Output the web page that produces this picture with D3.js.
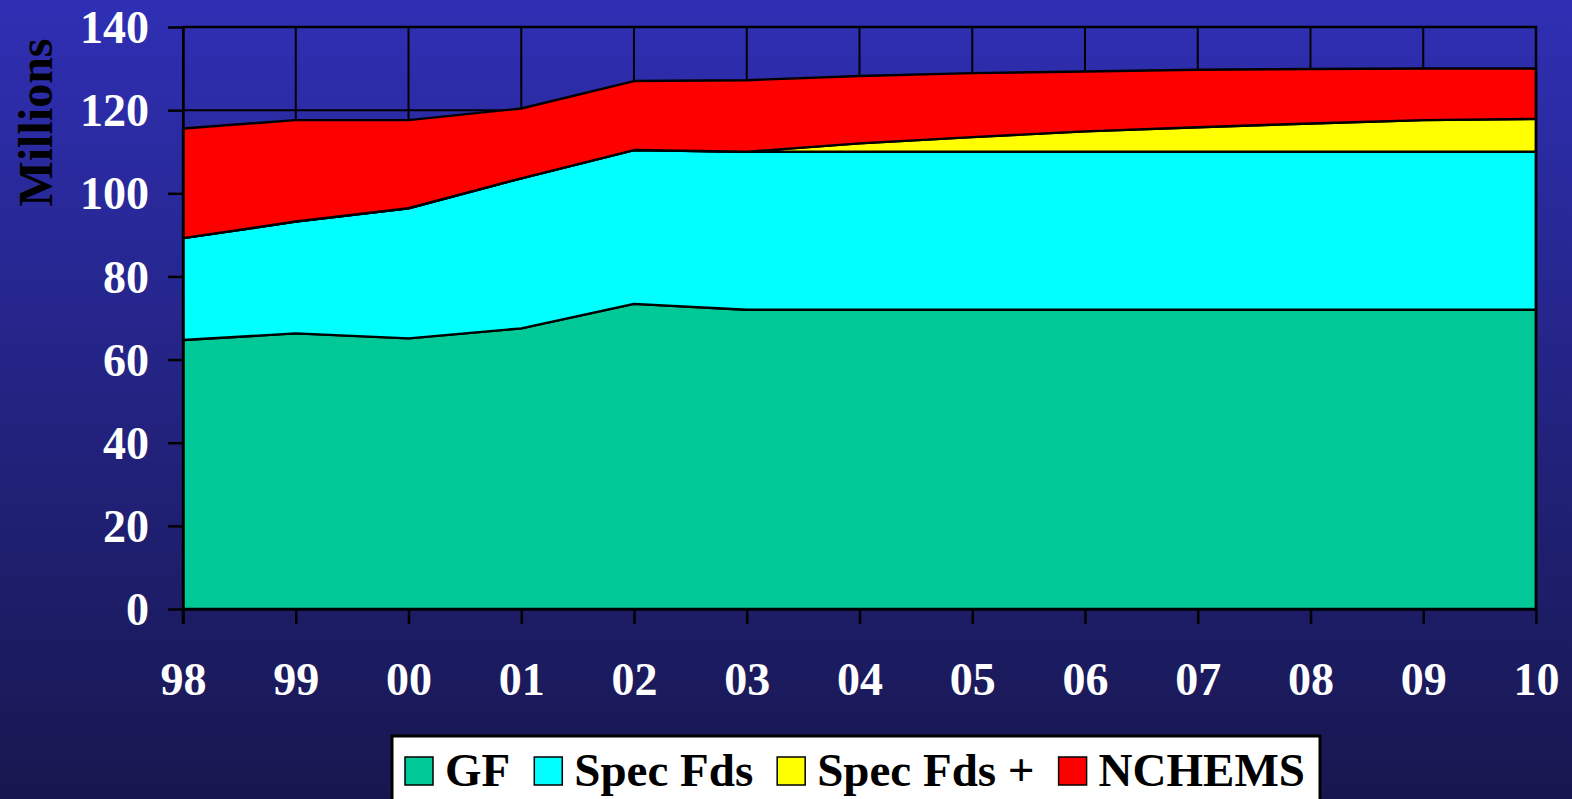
<!DOCTYPE html>
<html>
<head>
<meta charset="utf-8">
<script src="https://cdn.jsdelivr.net/npm/d3@7"></script>
<style>
  html, body { margin: 0; padding: 0; overflow: hidden; }
  svg { display: block; }
  text { font-family: "Liberation Serif", "Times New Roman", serif; font-weight: bold; }
</style>
</head>
<body>
<script>
// Fiscal years (two-digit labels) along the x axis
const years = ["98", "99", "00", "01", "02", "03", "04", "05", "06", "07", "08", "09", "10"];

// Funding by source, millions of dollars (stacked in this order)
const gf        = [64.7, 66.3, 65.1, 67.5, 73.4, 72.0, 72.0, 72.0, 72.0, 72.0, 72.0, 72.0, 72.0];
const specFds   = [24.5, 26.9, 31.3, 36.1, 37.0, 38.0, 38.0, 38.0, 38.0, 38.0, 38.0, 38.0, 38.0];
const specPlus  = [0, 0, 0, 0, 0, 0, 2.0, 3.5, 4.9, 5.9, 6.8, 7.6, 7.9];
const nchems    = [26.4, 24.4, 21.2, 16.8, 16.6, 17.2, 16.2, 15.4, 14.4, 13.8, 13.1, 12.4, 12.1];

const seriesNames  = ["GF", "Spec Fds", "Spec Fds +", "NCHEMS"];
const seriesColors = ["#00c896", "#00ffff", "#ffff00", "#ff0000"];
const yTicks = [0, 20, 40, 60, 80, 100, 120, 140];

const W = 1572, H = 799;
const svg = d3.select("body").append("svg").attr("width", W).attr("height", H);

// Slide background: vertical blue gradient
const grad = svg.append("defs").append("linearGradient")
  .attr("id", "bg").attr("x1", 0).attr("y1", 0).attr("x2", 0).attr("y2", 1);
grad.append("stop").attr("offset", "0%").attr("stop-color", "#2f2fb4");
grad.append("stop").attr("offset", "100%").attr("stop-color", "#17174f");
svg.append("rect").attr("width", W).attr("height", H).attr("fill", "url(#bg)");

const x = d3.scalePoint().domain(years).range([183, 1536]);
const y = d3.scaleLinear().domain([0, 140]).range([609, 27]);

// Rows for the stack layout
const rows = years.map((yr, i) => ({
  year: yr,
  "GF": gf[i], "Spec Fds": specFds[i], "Spec Fds +": specPlus[i], "NCHEMS": nchems[i]
}));
const stacked = d3.stack().keys(seriesNames)(rows);

// Gridlines
const grid = svg.append("g").attr("stroke", "#000").attr("stroke-width", 2);
grid.selectAll("line.h").data(yTicks).join("line")
  .attr("x1", x.range()[0]).attr("x2", x.range()[1])
  .attr("y1", d => y(d)).attr("y2", d => y(d));
grid.selectAll("line.v").data(years).join("line")
  .attr("x1", d => x(d)).attr("x2", d => x(d))
  .attr("y1", y(140)).attr("y2", y(0));

// Stacked areas
const area = d3.area()
  .x(d => x(d.data.year))
  .y0(d => y(d[0]))
  .y1(d => y(d[1]));
svg.append("g").selectAll("path").data(stacked).join("path")
  .attr("d", area)
  .attr("fill", (d, i) => seriesColors[i])
  .attr("stroke", "#000")
  .attr("stroke-width", 2.4)
  .attr("stroke-linejoin", "round");

// Plot frame (top and right edges)
svg.append("path")
  .attr("d", `M${x.range()[0]},${y(140)}H${x.range()[1]}V${y(0)}`)
  .attr("fill", "none").attr("stroke", "#000").attr("stroke-width", 2.5);

// Axes
const yAxis = svg.append("g").attr("transform", `translate(${x.range()[0]},0)`)
  .call(d3.axisLeft(y).tickValues(yTicks).tickSize(15).tickSizeOuter(0).tickPadding(20));
const xAxis = svg.append("g").attr("transform", `translate(0,${y(0)})`)
  .call(d3.axisBottom(x).tickSize(15).tickSizeOuter(0).tickPadding(38));
[yAxis, xAxis].forEach(g => {
  g.select(".domain").attr("stroke", "#000").attr("stroke-width", 2.5);
  g.selectAll(".tick line").attr("stroke", "#000").attr("stroke-width", 2.5);
  g.selectAll(".tick text")
    .attr("fill", "#fff")
    .style("font-family", '"Liberation Serif", "Times New Roman", serif')
    .style("font-weight", "bold")
    .style("font-size", "46px");
});
yAxis.selectAll(".tick text").attr("x", -34).attr("dy", "0.34em");
// extend the y axis line down through the first x tick
svg.append("line")
  .attr("x1", x.range()[0]).attr("x2", x.range()[0])
  .attr("y1", y(0)).attr("y2", y(0) + 15)
  .attr("stroke", "#000").attr("stroke-width", 2.5);

// Y axis title
svg.append("text")
  .attr("transform", `translate(52,${(38 + 207) / 2}) rotate(-90)`)
  .attr("text-anchor", "middle")
  .attr("fill", "#000")
  .style("font-size", "48px")
  .text("Millions");

// Legend
const legend = svg.append("g");
legend.append("rect")
  .attr("x", 392).attr("y", 736).attr("width", 928).attr("height", 90)
  .attr("fill", "#fff").attr("stroke", "#000").attr("stroke-width", 3);
let lx = 405;
seriesNames.forEach((name, i) => {
  legend.append("rect")
    .attr("x", lx).attr("y", 757).attr("width", 28).attr("height", 28)
    .attr("fill", seriesColors[i]).attr("stroke", "#000").attr("stroke-width", 1.5);
  const t = legend.append("text")
    .attr("x", lx + 40).attr("y", 786)
    .attr("fill", "#000")
    .style("font-size", "47px")
    .text(name);
  lx += 40 + t.node().getComputedTextLength() + 24;
});
</script>
</body>
</html>
